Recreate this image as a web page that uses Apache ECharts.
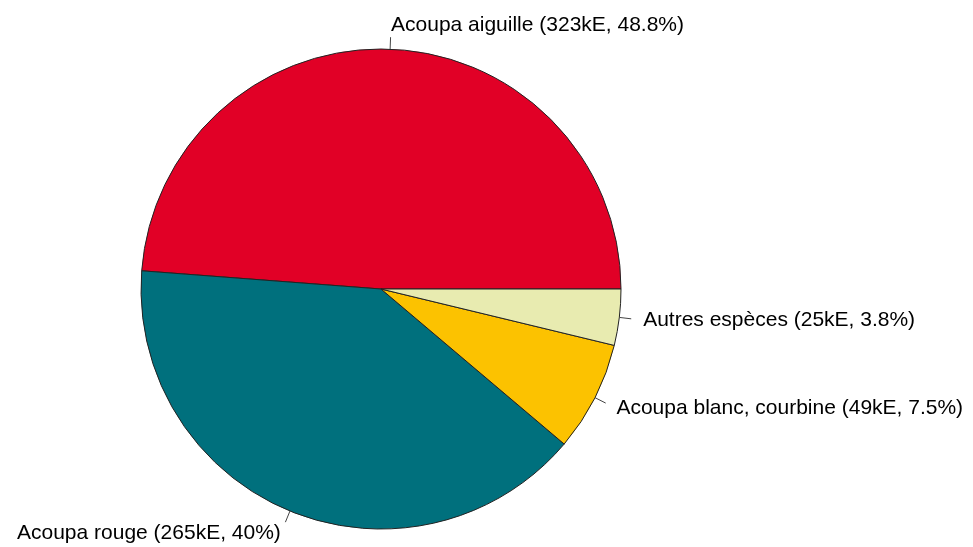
<!DOCTYPE html>
<html>
<head>
<meta charset="utf-8">
<script src="https://cdn.jsdelivr.net/npm/echarts@6/dist/echarts.min.js"></script>
<style>
  html, body { margin: 0; padding: 0; background: #fff; }
  #chart { width: 973px; height: 547px; }
</style>
</head>
<body>
<div id="chart"></div>
<script>
// species catch, thousands of euros (kE)
var names = ['Acoupa aiguille', 'Acoupa rouge', 'Acoupa blanc, courbine', 'Autres espèces'];
var valuesKE = [323, 265, 49, 25];
var pctLabels = ['48.8%', '40%', '7.5%', '3.8%'];
var sliceColors = ['#E10026', '#00707D', '#FCC200', '#E8EBB0'];

var total = valuesKE.reduce(function (a, b) { return a + b; }, 0);
var acc = 0;
var R = 240, off = R * 0.05;
var shiftUp = [];

// R style labels: tick from r to 1.05r, text at 1.1r
var pieData = names.map(function (n, i) {
  var mid = (acc + valuesKE[i] / 2) / total * 2 * Math.PI;
  acc += valuesKE[i];
  var c = Math.cos(mid), s = Math.sin(mid);
  var pad = [0, 0, 0, 0];
  if (c >= 0) pad[3] = off * c; else pad[1] = -off * c;
  shiftUp.push(off * s);
  var h = Math.max(1, Math.abs(2 * off * s));
  return {
    name: n,
    value: valuesKE[i],
    itemStyle: { color: sliceColors[i] },
    label: {
      padding: pad,
      rich: {
        t: { fontSize: 21, lineHeight: 24, fontFamily: 'Liberation Sans, Arial, sans-serif', color: '#000' },
        sp: { height: h, lineHeight: h, fontSize: 1 }
      }
    }
  };
});

var myChart = echarts.init(document.getElementById('chart'));
myChart.setOption({
  animation: false,
  series: [{
    type: 'pie',
    center: [381, 289],
    radius: R,
    startAngle: 0,
    clockwise: false,
    avoidLabelOverlap: false,
    itemStyle: { borderColor: '#222', borderWidth: 1 },
    label: {
      show: true,
      position: 'outside',
      distanceToLabelLine: 0,
      color: '#000',
      fontFamily: 'Liberation Sans, Arial, sans-serif',
      fontSize: 21,
      lineHeight: 1,
      formatter: function (p) {
        var t = '{t|' + p.name + ' (' + p.value + 'kE, ' + pctLabels[p.dataIndex] + ')}';
        return shiftUp[p.dataIndex] > 0 ? t + '\n{sp| }' : '{sp| }\n' + t;
      }
    },
    labelLine: {
      show: true,
      length: off,
      length2: 0,
      lineStyle: { color: '#444', width: 1 }
    },
    emphasis: { disabled: true },
    data: pieData
  }]
});
</script>
</body>
</html>
